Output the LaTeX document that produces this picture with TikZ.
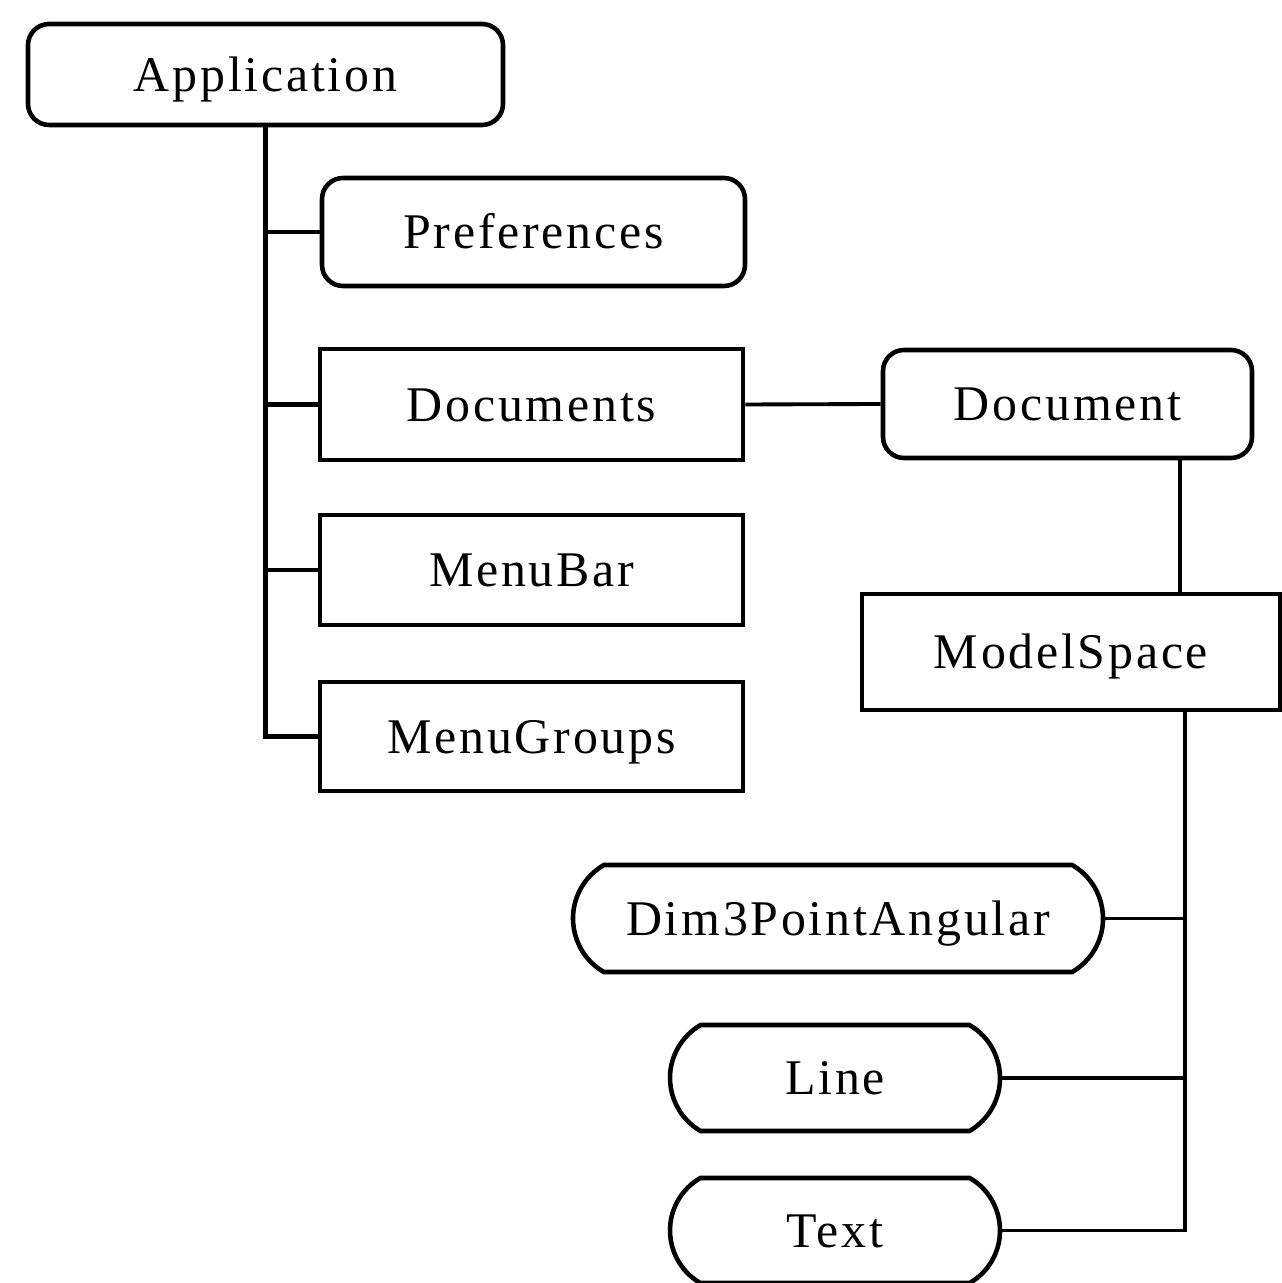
\documentclass[tikz,border=0pt]{standalone}
\usepackage{fontspec}
\setmainfont{Liberation Serif}[LetterSpace=5.5]
\usetikzlibrary{shapes.misc}

\begin{document}
\begin{tikzpicture}[
    every node/.style={font=\fontsize{14.2}{17}\selectfont, line width=1.3pt,
        inner sep=0pt, text height=9.4pt, text depth=0pt},
    rbox/.style={draw, rounded corners=6pt},
    sbox/.style={draw},
    pill/.style={draw, rounded rectangle, rounded rectangle arc length=120},
    link/.style={line width=1.1pt},
    trunk/.style={line width=1.4pt}]
\useasboundingbox (0,0) rectangle (12.81,-12.83);

\node[rbox, minimum width=4.75cm, minimum height=1.01cm] (app) at (2.655,-0.745) {Application};
\node[rbox, minimum width=4.23cm, minimum height=1.08cm] (pref) at (5.335,-2.32) {Preferences};
\node[sbox, minimum width=4.23cm, minimum height=1.11cm] (docs) at (5.315,-4.045) {Documents};
\node[sbox, minimum width=4.23cm, minimum height=1.10cm] (bar) at (5.315,-5.70) {MenuBar};
\node[sbox, minimum width=4.23cm, minimum height=1.09cm] (grp) at (5.315,-7.365) {MenuGroups};

\node[rbox, minimum width=3.69cm, minimum height=1.08cm] (doc) at (10.675,-4.04) {Document};
\node[sbox, minimum width=4.18cm, minimum height=1.16cm] (ms) at (10.71,-6.52) {ModelSpace};

\node[pill, minimum width=5.30cm, minimum height=1.07cm] (dim) at (8.38,-9.185) {Dim3PointAngular};
\node[pill, minimum width=3.30cm, minimum height=1.06cm] (line) at (8.35,-10.78) {Line};
\node[pill, minimum width=3.30cm, minimum height=1.05cm] (txt) at (8.35,-12.305) {Text};

% application tree
\draw[trunk] (app.south) |- (grp.west);
\foreach \n in {pref,docs,bar}
{
    \draw[trunk] (app.south |- \n.west) -- (\n.west);
}
\draw[link] (docs.east) -- (doc.west);

% document tree
\coordinate (dms) at (11.80,0);
\draw[link] (doc.south -| dms) -- (ms.north -| dms);
\coordinate (mst) at (11.85,0);
\draw[link] (ms.south -| mst) |- (txt.east);
\foreach \n in {dim,line}
{
    \draw[link] (\n.east) -- (\n.east -| mst);
}
\end{tikzpicture}
\end{document}
